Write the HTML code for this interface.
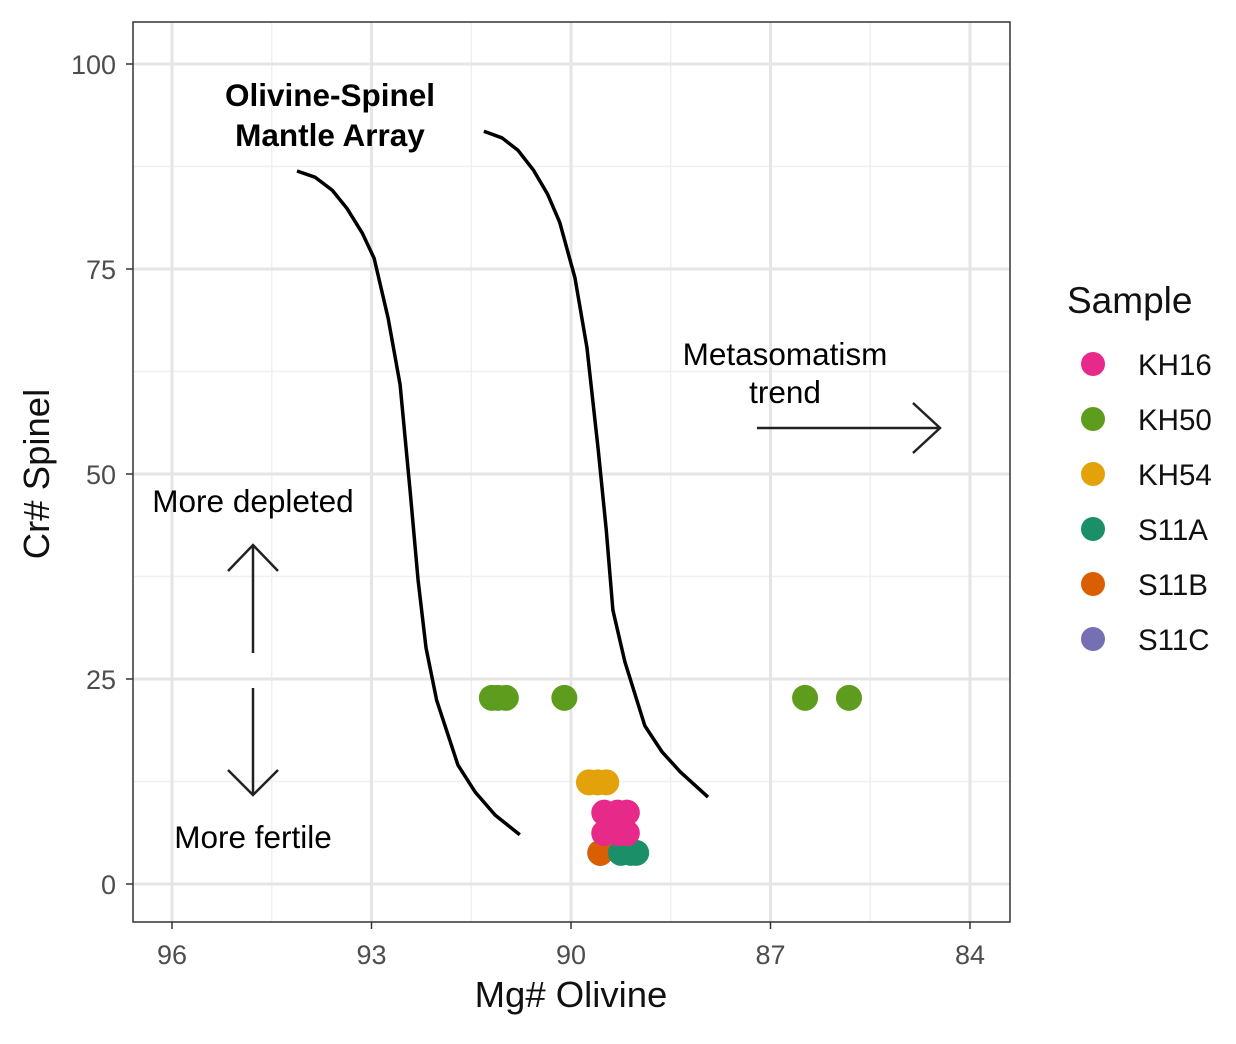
<!DOCTYPE html>
<html><head><meta charset="utf-8"><style>body{margin:0;background:#fff}svg{display:block;font-family:"Liberation Sans",Arial,sans-serif}</style></head>
<body>
<svg id="c" width="1236" height="1044"></svg>
<script>
const xTicks=[96,93,90,87,84];
const xMinor=[94.5,91.5,88.5,85.5];
const yTicks=[0,25,50,75,100];
const yMinor=[12.5,37.5,62.5,87.5];
const sampleNames=["KH16","KH50","KH54","S11A","S11B","S11C"];
const sampleColors=["#E7298A","#5E9C1E","#E3A20A","#1B9068","#D95F02","#7570B3"];
const kh50X=[91.19,91.1,90.98,90.1,86.48,85.82];
const kh50Y=[22.7,22.7,22.7,22.7,22.7,22.7];
const kh54X=[89.73,89.6,89.47];
const kh54Y=[12.4,12.4,12.4];
const s11bX=[89.56];
const s11bY=[3.8];
const s11aX=[89.56,89.25,89.1,89.02];
const s11aY=[3.8,3.8,3.8,3.8];
const kh16X=[89.5,89.3,89.16,89.5,89.3,89.16];
const kh16Y=[8.7,8.7,8.7,6.2,6.2,6.2];
const leftCurveX=[94.12,93.85,93.59,93.37,93.14,92.96,92.75,92.57,92.42,92.30,92.18,92.02,91.70,91.44,91.14,90.77];
const leftCurveY=[86.95,86.2,84.6,82.4,79.4,76.3,69.0,60.9,48.0,37.1,28.8,22.4,14.5,11.2,8.4,6.0];
const rightCurveX=[91.31,91.04,90.80,90.56,90.35,90.17,89.94,89.76,89.59,89.47,89.37,89.19,88.89,88.63,88.36,87.94];
const rightCurveY=[91.8,91.0,89.5,87.0,84.1,80.7,73.9,65.4,52.9,43.2,33.4,27.1,19.3,16.1,13.7,10.6];

const X=v=>172+(96-v)*66.5, Y=v=>884-v*8.2;
const svg=document.getElementById('c'), NS='http://www.w3.org/2000/svg';
function mk(t,a,p){const e=document.createElementNS(NS,t);for(const k in a)e.setAttribute(k,a[k]);(p||svg).appendChild(e);return e;}
const panel=mk('rect',{x:133,y:22,width:877,height:900,fill:'#fff'});


xMinor.forEach(v=>{const l=mk('line',{x1:X(v),x2:X(v),y1:22,y2:922,stroke:'#f0f0f0','stroke-width':1.5});});
yMinor.forEach(v=>{const l=mk('line',{x1:133,x2:1010,y1:Y(v),y2:Y(v),stroke:'#f0f0f0','stroke-width':1.5});});
xTicks.forEach(v=>{const l=mk('line',{x1:X(v),x2:X(v),y1:22,y2:922,stroke:'#e5e5e5','stroke-width':3});
 const tk=mk('line',{x1:X(v),x2:X(v),y1:922,y2:929,stroke:'#333','stroke-width':1.5});
 const t=mk('text',{x:X(v),y:964,'text-anchor':'middle','font-size':27,fill:'#4d4d4d'});t.textContent=v;});
yTicks.forEach(v=>{const l=mk('line',{x1:133,x2:1010,y1:Y(v),y2:Y(v),stroke:'#e5e5e5','stroke-width':3});
 const tk=mk('line',{x1:126,x2:133,y1:Y(v),y2:Y(v),stroke:'#333','stroke-width':1.5});
 const t=mk('text',{x:116,y:Y(v)+10,'text-anchor':'end','font-size':27,fill:'#4d4d4d'});t.textContent=v;});
function curve(xs,ys,name){const d=xs.map((v,i)=>(i?'L':'M')+X(v)+','+Y(ys[i])).join('');const p=mk('path',{d:d,fill:'none',stroke:'#000','stroke-width':3.5,'stroke-linejoin':'round'});}
curve(leftCurveX,leftCurveY,'mantle-array-left-curve');
curve(rightCurveX,rightCurveY,'mantle-array-right-curve');
function pts(xs,ys,ci,name){xs.forEach((v,i)=>{const c=mk('circle',{cx:X(v),cy:Y(ys[i]),r:13,fill:sampleColors[ci]});});}
pts(kh50X,kh50Y,1,'point-kh50');
pts(kh54X,kh54Y,2,'point-kh54');
pts(s11aX.slice(0,1),s11aY.slice(0,1),3,'point-s11a');
pts(s11bX,s11bY,4,'point-s11b');
pts(s11aX.slice(1),s11aY.slice(1),3,'point-s11a');
pts(kh16X,kh16Y,0,'point-kh16');
const border=mk('rect',{x:133,y:22,width:877,height:900,fill:'none',stroke:'#333','stroke-width':1.5});


function txt(s,x,y,size,name,extra){const t=mk('text',Object.assign({x:x,y:y,'font-size':size,'text-anchor':'middle',fill:'#000'},extra||{}));t.textContent=s;return t;}
txt('Olivine-Spinel',330,106,31.5,'annotation-title',{'font-weight':'bold'});
txt('Mantle Array',330,146,31.5,'annotation-title',{'font-weight':'bold'});
txt('Metasomatism',785,365,31.5,'annotation-metasomatism');
txt('trend',785,403,31.5,'annotation-metasomatism');
txt('More depleted',253,512,31.5,'annotation-depleted');
txt('More fertile',253,848,31.5,'annotation-fertile');
function arrow(d,name){const p=mk('path',{d:d,fill:'none',stroke:'#222','stroke-width':2.5});}
arrow('M757,428H940M913,403L940,428L913,453','metasomatism-arrow');
arrow('M253,653V545M228,571L253,545L278,571','depleted-arrow');
arrow('M253,688V795M228,770L253,795L278,770','fertile-arrow');
txt('Mg# Olivine',571,1007,36.5,'x-axis-title',{fill:'#111'});
const yt=txt('Cr# Spinel',0,0,36.5,'y-axis-title',{fill:'#111',transform:'translate(49,474) rotate(-90)'});
const lt=txt('Sample',1067,313,37,'legend-title',{'text-anchor':'start',fill:'#111'});
sampleNames.forEach((n,i)=>{const y=364+i*55;const c=mk('circle',{cx:1093,cy:y,r:12,fill:sampleColors[i]});
 const t=txt(n,1138,y+11,29.5,'legend-entry',{'text-anchor':'start',fill:'#111'});});
</script>
</body></html>
